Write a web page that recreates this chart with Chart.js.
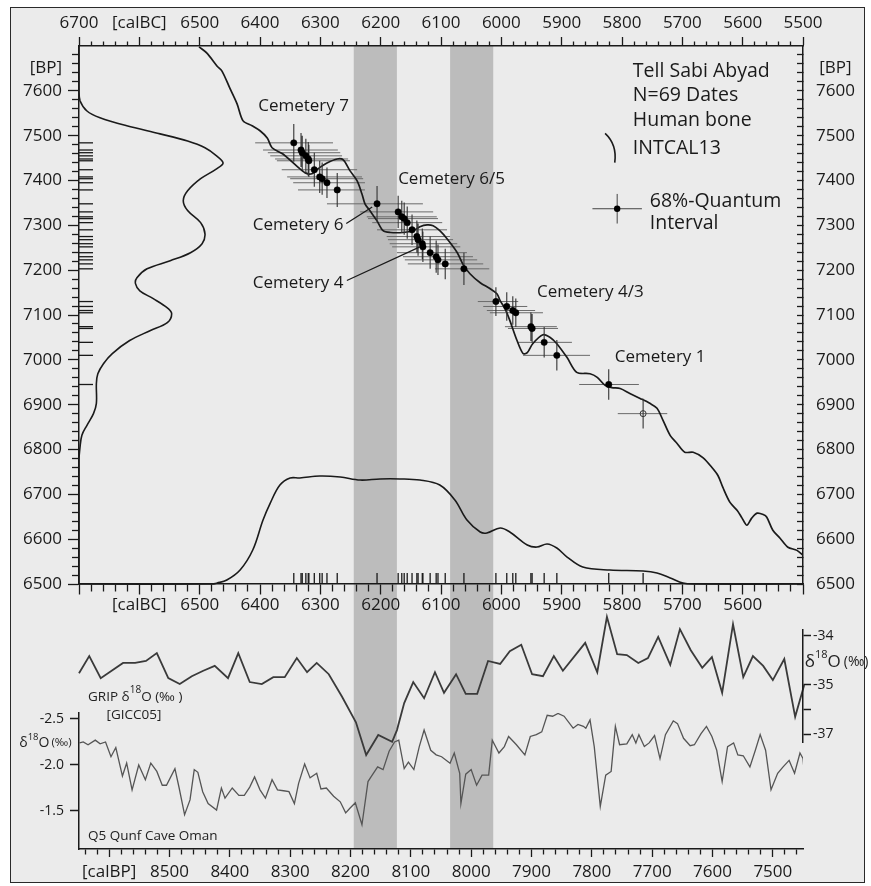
<!DOCTYPE html>
<html>
<head>
<meta charset="utf-8">
<script src="https://cdn.jsdelivr.net/npm/chart.js@4/dist/chart.umd.min.js"></script>
<style>
html,body{margin:0;padding:0;background:#ffffff;}
#wrap{position:relative;width:871px;height:886px;overflow:hidden;}
#frame{position:absolute;left:10px;top:7px;width:855px;height:876px;box-sizing:border-box;border:1.5px solid #2a2a2a;background:#ebebeb;}
#c{position:absolute;left:0;top:0;}
</style>
</head>
<body>
<div id="wrap"><div id="frame"></div><canvas id="c" width="871" height="886"></canvas></div>
<script>
// ---------------- DATA ----------------
// INTCAL13 calibration curve (cal BC -> 14C BP)
const intcalCalBC = [6501,6488,6471,6463,6450,6438,6428,6413,6400,6388,6380,6362,6339,6325,6314,6304,6289,6272,6262,6251,6239,6231,6226,6218,6206,6196,6184,6163,6146,6135,6123,6113,6102,6090,6073,6064,6052,6035,6019,6007,6002,5994,5986,5974,5964,5957,5948,5931,5919,5908,5891,5875,5853,5841,5828,5817,5803,5787,5770,5754,5742,5732,5720,5709,5696,5682,5666,5651,5641,5633,5621,5609,5601,5593,5585,5576,5566,5560,5550,5538,5525,5510,5500];
const intcalBP = [7698,7684,7655,7644,7606,7571,7533,7522,7511,7495,7473,7459,7432,7417,7415,7426,7439,7448,7446,7422,7399,7370,7348,7333,7310,7288,7284,7284,7288,7297,7301,7299,7288,7270,7239,7214,7192,7172,7159,7147,7132,7114,7088,7043,7014,7016,7036,7056,7050,7036,7005,6972,6969,6961,6943,6938,6936,6925,6914,6903,6892,6865,6831,6814,6794,6794,6782,6760,6742,6716,6682,6664,6647,6631,6647,6658,6655,6649,6620,6602,6582,6575,6564];

// summed 14C BP distribution (left curve), relative density
const sumBP = [7700,7600,7578,7555,7540,7522,7504,7488,7473,7455,7439,7426,7404,7377,7355,7333,7306,7281,7259,7239,7221,7203,7183,7170,7154,7137,7116,7103,7083,7065,7043,7014,6992,6969,6947,6903,6880,6854,6832,6805,6776,6500];
const sumBPDensity = [0,0,0.007,0.055,0.145,0.33,0.56,0.75,0.87,0.95,0.995,0.95,0.84,0.75,0.72,0.75,0.84,0.87,0.85,0.77,0.63,0.47,0.40,0.39,0.42,0.51,0.61,0.64,0.61,0.49,0.35,0.23,0.17,0.13,0.12,0.12,0.10,0.055,0.02,0.007,0,0];

// summed calibrated distribution (bottom curve), relative density
const sumCalBC = [6700,6480,6471,6455,6433,6412,6395,6383,6367,6350,6334,6301,6267,6234,6201,6168,6135,6102,6077,6057,6035,6024,6002,5986,5957,5941,5924,5908,5891,5865,5820,5765,5742,5720,5699,5682,5500];
const sumCalDensity = [0,0,0.009,0.036,0.127,0.309,0.582,0.736,0.9,0.964,0.964,0.982,0.973,0.945,0.955,0.955,0.945,0.9,0.764,0.582,0.473,0.464,0.509,0.473,0.355,0.336,0.364,0.327,0.245,0.155,0.127,0.118,0.1,0.055,0.009,0,0];

// human bone dates: calibrated median (cal BC), 14C age (BP), 68% range, BP error
const dateCalBC = [6344,6332,6330,6324,6320,6319,6310,6301,6297,6289,6272,6206,6171,6165,6161,6156,6148,6140,6138,6131,6130,6118,6108,6105,6093,6062,6009,5991,5981,5976,5951,5949,5929,5908,5822];
const dateBP    = [7484,7468,7462,7455,7448,7444,7424,7408,7404,7395,7379,7348,7330,7319,7315,7306,7290,7275,7268,7259,7252,7239,7230,7223,7214,7203,7130,7119,7110,7105,7074,7070,7039,7010,6945];
const dateCalOld = [6408,6395,6387,6383,6375,6372,6364,6355,6350,6345,6337,6289,6234,6223,6221,6214,6206,6190,6188,6185,6181,6173,6163,6160,6155,6110,6039,6030,6024,6019,5994,5989,5974,5964,5871];
const dateCalYoung = [6279,6271,6267,6264,6254,6251,6239,6231,6229,6226,6226,6130,6113,6107,6105,6098,6090,6085,6080,6073,6068,6057,6047,6040,6030,6020,5972,5957,5944,5931,5908,5906,5883,5853,5772];
const dateBPErr = [42,38,38,38,38,36,38,36,36,34,38,40,36,36,36,36,34,36,36,34,34,36,36,34,34,36,32,32,32,32,32,32,34,34,34];
// outlier date (open symbol)
const openCalBC = [5765], openBP = [6880], openCalOld = [5807], openCalYoung = [5725], openBPErr = [33];

// grey event bands (cal BC)
const bandStartBC = [6245, 6085];
const bandEndBC   = [6173, 6013];

// GRIP d18O (GICC05), cal BP
const gripCalBP = [8650,8633,8614,8577,8557,8539,8521,8502,8483,8463,8444,8425,8403,8386,8367,8347,8328,8309,8289,8272,8256,8236,8214,8191,8174,8154,8131,8123,8111,8096,8078,8060,8045,8025,8009,7990,7972,7952,7936,7917,7899,7881,7863,7848,7811,7791,7775,7758,7742,7723,7707,7690,7670,7654,7636,7617,7601,7584,7566,7549,7533,7516,7500,7481,7463,7448];
const gripD18O = [-34.76,-34.41,-34.86,-34.55,-34.55,-34.51,-34.35,-34.86,-34.98,-34.82,-34.71,-34.61,-34.86,-34.35,-34.94,-34.98,-34.84,-34.84,-34.45,-34.74,-34.55,-34.78,-35.24,-35.76,-36.43,-36.02,-36.16,-35.92,-35.37,-34.94,-35.27,-34.74,-35.16,-34.78,-35.18,-35.18,-34.51,-34.57,-34.31,-34.18,-34.78,-34.82,-34.41,-34.71,-34.14,-34.74,-33.61,-34.37,-34.39,-34.55,-34.45,-34.02,-34.59,-33.86,-34.29,-34.65,-34.43,-35.16,-33.76,-34.84,-34.41,-34.61,-34.90,-34.47,-35.65,-35.00];

// Q5 Qunf Cave (Oman) d18O, cal BP
const qunfCalBP = [8649,8643,8635,8623,8615,8606,8597,8589,8578,8571,8562,8551,8540,8531,8521,8512,8505,8491,8484,8475,8466,8459,8453,8445,8436,8422,8414,8408,8396,8385,8376,8367,8359,8350,8341,8330,8321,8311,8302,8293,8286,8276,8267,8256,8249,8240,8228,8217,8208,8201,8192,8181,8171,8166,8155,8146,8136,8127,8120,8111,8104,8095,8086,8078,8067,8058,8049,8035,8028,8019,8017,8009,8000,7991,7982,7971,7965,7954,7945,7938,7925,7911,7902,7892,7883,7874,7865,7856,7846,7831,7823,7814,7810,7803,7796,7786,7777,7768,7761,7754,7742,7733,7727,7722,7713,7705,7696,7687,7678,7665,7658,7648,7637,7630,7619,7610,7601,7593,7584,7575,7565,7558,7549,7538,7529,7521,7512,7503,7492,7483,7473,7464,7455,7450,7448];
const qunfD18O = [-2.24,-2.25,-2.22,-2.27,-2.23,-2.25,-2.09,-2.19,-1.88,-2.02,-1.73,-2.00,-1.84,-2.02,-1.93,-1.78,-1.78,-1.96,-1.75,-1.46,-1.62,-1.95,-1.92,-1.71,-1.58,-1.51,-1.75,-1.64,-1.75,-1.67,-1.67,-1.76,-1.87,-1.73,-1.64,-1.84,-1.73,-1.72,-1.71,-1.58,-1.80,-2.01,-1.86,-1.91,-1.74,-1.75,-1.66,-1.60,-1.48,-1.53,-1.59,-1.35,-1.82,-1.87,-1.98,-1.95,-2.15,-2.25,-2.27,-1.96,-2.03,-1.95,-2.20,-2.38,-2.16,-2.11,-2.09,-2.02,-2.13,-1.91,-1.58,-1.90,-1.95,-1.78,-1.89,-1.89,-2.27,-2.13,-2.20,-2.31,-2.22,-2.11,-2.31,-2.33,-2.36,-2.54,-2.53,-2.56,-2.53,-2.40,-2.44,-2.42,-2.40,-2.49,-2.20,-1.55,-1.89,-1.93,-2.42,-2.22,-2.23,-2.33,-2.24,-2.33,-2.20,-2.24,-2.32,-2.07,-2.33,-2.48,-2.45,-2.29,-2.21,-2.22,-2.34,-2.42,-2.31,-2.16,-1.82,-2.20,-2.24,-2.11,-2.10,-1.98,-2.16,-2.33,-2.16,-1.73,-1.91,-1.98,-2.05,-1.91,-2.13,-2.07,-1.93];

// tick labels
const calBCTickValues = [6700,6600,6500,6400,6300,6200,6100,6000,5900,5800,5700,5600,5500];
const calBCTopLabels  = ['6700','[calBC]','6500','6400','6300','6200','6100','6000','5900','5800','5700','5600','5500'];
const calBCMidLabels  = ['','[calBC]','6500','6400','6300','6200','6100','6000','5900','5800','5700','5600',''];
const bpTickValues = [7650,7600,7500,7400,7300,7200,7100,7000,6900,6800,6700,6600,6500];
const bpTickLabels = ['[BP]','7600','7500','7400','7300','7200','7100','7000','6900','6800','6700','6600','6500'];
const calBPTickValues = [8600,8500,8400,8300,8200,8100,8000,7900,7800,7700,7600,7500];
const calBPTickLabels = ['[calBP]','8500','8400','8300','8200','8100','8000','7900','7800','7700','7600','7500'];
const qunfTickValues = [-2.5,-2.0,-1.5];
const qunfTickLabels = ['-2.5','-2.0','-1.5'];
const gripTickValues = [-34,-35,-35.5,-36];
const gripTickLabels = ['-34','-35','','-37'];

// ---------------- HELPERS ----------------
const FONT = "'Open Sans','Noto Sans','DejaVu Sans',sans-serif";
const INK = '#1a1a1a';
function range(a, b, s) { const r = []; for (let v = a; v <= b + 1e-9; v += s) r.push(Math.round(v * 1000) / 1000); return r; }
function labelMap(vals, labs) { const m = new Map(); vals.forEach((v, i) => m.set(v, labs[i])); return m; }
function setTicks(values) { return s => { s.ticks = Array.from(new Set(values)).sort((a, b) => a - b).map(v => ({value: v})); }; }
function minorDash(majorSet, tl, m, outerFirst) {
  return {
    tickBorderDash: c => (c.tick && !majorSet.has(c.tick.value)) ? [m, 1000] : [],
    tickBorderDashOffset: c => (c.tick && !majorSet.has(c.tick.value) && outerFirst) ? -(tl - m) : 0
  };
}
const calBCMajor = new Set(calBCTickValues);
const bpMajor = new Set(bpTickValues.filter(v => v !== 7650));
const calBPMajor = new Set(range(7500, 8600, 100));
const topMap = labelMap(calBCTickValues, calBCTopLabels);
const midMap = labelMap(calBCTickValues, calBCMidLabels);
const bpMap = labelMap(bpTickValues, bpTickLabels);
const calBPMap = labelMap(calBPTickValues, calBPTickLabels);
const qunfMap = labelMap(qunfTickValues, qunfTickLabels);
const gripMap = labelMap(gripTickValues, gripTickLabels);
const hideBPLabelTick = c => (c.tick && c.tick.value === 7650) ? 'rgba(0,0,0,0)' : INK;

// datasets built from arrays
const xy = (xs, ys) => xs.map((x, i) => ({x, y: ys[i]}));
function hBars(cal, bp, old, young) { const d = []; cal.forEach((c, i) => { d.push({x: old[i], y: bp[i]}, {x: young[i], y: bp[i]}, {x: young[i], y: null}); }); return d; }
function vBars(cal, bp, err) { const d = []; cal.forEach((c, i) => { d.push({x: c, y: bp[i] - err[i]}, {x: c, y: bp[i] + err[i]}, {x: c, y: null}); }); return d; }

const lineDefaults = {type: 'line', pointRadius: 0, borderWidth: 1.6, borderColor: INK, fill: false, tension: 0};

const datasets = [];
bandStartBC.forEach((s, i) => datasets.push({...lineDefaults, label: 'band' + i, data: [{x: s, y: 1}, {x: bandEndBC[i], y: 1}], xAxisID: 'x', yAxisID: 'yBand', borderWidth: 0, fill: 'origin', backgroundColor: '#bcbcbc', order: 20}));
datasets.push({...lineDefaults, label: 'sumBP', data: xy(sumBPDensity, sumBP), xAxisID: 'xD', yAxisID: 'yBP', tension: 0.35, order: 9});
datasets.push({...lineDefaults, label: 'sumCal', data: xy(sumCalBC, sumCalDensity), xAxisID: 'x', yAxisID: 'yD', tension: 0.35, order: 9});
datasets.push({...lineDefaults, label: 'hbars', data: hBars(dateCalBC.concat(openCalBC), dateBP.concat(openBP), dateCalOld.concat(openCalOld), dateCalYoung.concat(openCalYoung)), xAxisID: 'x', yAxisID: 'yBP', borderWidth: 1, borderColor: '#6a6a6a', order: 8});
datasets.push({...lineDefaults, label: 'intcal', data: xy(intcalCalBC, intcalBP), xAxisID: 'x', yAxisID: 'yBP', tension: 0.3, borderWidth: 1.7, order: 7});
datasets.push({...lineDefaults, label: 'vbars', data: vBars(dateCalBC.concat(openCalBC), dateBP.concat(openBP), dateBPErr.concat(openBPErr)), xAxisID: 'x', yAxisID: 'yBP', borderWidth: 1.1, borderColor: '#333333', order: 6});
datasets.push({type: 'line', label: 'rugBP', data: dateBP.map(v => ({x: 6700, y: v})), xAxisID: 'x', yAxisID: 'yBP', showLine: false, pointStyle: 'dash', pointRadius: 14, pointBorderWidth: 1.3, pointBorderColor: INK, order: 5});
datasets.push({type: 'line', label: 'rugCal', data: dateCalBC.concat(openCalBC).map(v => ({x: v, y: 6500})), xAxisID: 'x', yAxisID: 'yBP', showLine: false, pointStyle: 'dash', pointRotation: -90, pointRadius: 11, pointBorderWidth: 1.3, pointBorderColor: INK, order: 5});
datasets.push({type: 'line', label: 'dates', data: xy(dateCalBC, dateBP), xAxisID: 'x', yAxisID: 'yBP', showLine: false, pointRadius: 3.2, pointBackgroundColor: '#000', pointBorderColor: '#000', pointBorderWidth: 0.5, order: 4});
datasets.push({type: 'line', label: 'open', data: xy(openCalBC, openBP), xAxisID: 'x', yAxisID: 'yBP', showLine: false, pointRadius: 3, pointBackgroundColor: 'rgba(0,0,0,0)', pointBorderColor: '#333', pointBorderWidth: 1, order: 4});
datasets.push({...lineDefaults, label: 'GRIP', data: xy(gripCalBP, gripD18O), xAxisID: 'xBP', yAxisID: 'yGRIP', borderWidth: 1.8, borderColor: '#3a3a3a', clip: false, order: 3});
datasets.push({...lineDefaults, label: 'Qunf', data: xy(qunfCalBP, qunfD18O), xAxisID: 'xBP', yAxisID: 'yQunf', borderWidth: 1.3, borderColor: '#555555', order: 3});

// ---------------- ANNOTATION PLUGIN ----------------
function rich(ctx, x, y, parts) {
  let cx = x;
  parts.forEach(p => {
    ctx.font = (p.size) + 'px ' + FONT;
    ctx.fillText(p.t, cx, y + (p.dy || 0));
    cx += ctx.measureText(p.t).width + (p.gap || 0);
  });
}
const annotations = {
  id: 'annotations',
  afterDraw(chart) {
    const ctx = chart.ctx, S = chart.scales;
    const px = v => S.x.getPixelForValue(v), py = v => S.yBP.getPixelForValue(v);
    const bx = v => S.xBP.getPixelForValue(v), gy = v => S.yGRIP.getPixelForValue(v), qy = v => S.yQunf.getPixelForValue(v);
    ctx.save();
    ctx.fillStyle = INK; ctx.strokeStyle = INK; ctx.textBaseline = 'middle'; ctx.textAlign = 'left';
    // site text
    ctx.font = '19.5px ' + FONT;
    [['Tell Sabi Abyad', 7644], ['N=69 Dates', 7589], ['Human bone', 7533], ['INTCAL13', 7471]].forEach(t => ctx.fillText(t[0], px(5782), py(t[1])));
    ctx.fillText('68%-Quantum', px(5754), py(7353));
    ctx.fillText('Interval', px(5754), py(7304));
    // legend: curve sample
    ctx.lineWidth = 1.6;
    ctx.beginPath();
    ctx.moveTo(px(5828), py(7505));
    ctx.quadraticCurveTo(px(5808), py(7480), px(5812), py(7440));
    ctx.stroke();
    // legend: quantum interval cross
    ctx.lineWidth = 1; ctx.strokeStyle = '#444';
    ctx.beginPath();
    ctx.moveTo(px(5849), py(7337)); ctx.lineTo(px(5767), py(7337));
    ctx.moveTo(px(5808), py(7370)); ctx.lineTo(px(5808), py(7304));
    ctx.stroke();
    ctx.beginPath(); ctx.arc(px(5808), py(7337), 3.2, 0, Math.PI * 2); ctx.fillStyle = '#000'; ctx.fill();
    ctx.fillStyle = INK; ctx.strokeStyle = INK;
    // cemetery labels
    ctx.font = '17px ' + FONT;
    [['Cemetery 7', 6403, 7566], ['Cemetery 6/5', 6171, 7404], ['Cemetery 6', 6412, 7301], ['Cemetery 4', 6412, 7172], ['Cemetery 4/3', 5941, 7152], ['Cemetery 1', 5812, 7007]].forEach(t => ctx.fillText(t[0], px(t[1]), py(t[2])));
    ctx.lineWidth = 1.3;
    ctx.beginPath();
    ctx.moveTo(px(6257), py(7304)); ctx.lineTo(px(6214), py(7341));
    ctx.moveTo(px(6256), py(7177)); ctx.lineTo(px(6135), py(7252));
    ctx.stroke();
    // lower panel texts
    ctx.fillStyle = '#222';
    rich(ctx, bx(8635), gy(-35.245), [{t: 'GRIP ', size: 13.5}, {t: 'δ', size: 13.5}, {t: '18', size: 10, dy: -7}, {t: 'O (‰ )', size: 13.5}]);
    ctx.font = '13.5px ' + FONT; ctx.textAlign = 'center';
    ctx.fillText('[GICC05]', bx(8559), gy(-35.61));
    ctx.textAlign = 'left';
    ctx.fillText('Q5 Qunf Cave Oman', bx(8635), qy(-1.228));
    rich(ctx, bx(8749), qy(-2.239), [{t: 'δ', size: 14}, {t: '18', size: 9.5, dy: -6}, {t: 'O', size: 14, gap: 2}, {t: '(‰)', size: 11.5}]);
    rich(ctx, bx(7447), gy(-34.53), [{t: 'δ', size: 17}, {t: '18', size: 11, dy: -7}, {t: 'O', size: 17, gap: 3}, {t: '(‰)', size: 14}]);
    ctx.restore();
  }
};

// ---------------- CHART ----------------
Chart.defaults.font.family = FONT;
Chart.defaults.color = INK;
const tickFont = {size: 17, family: FONT};
const axisBorder = {display: true, color: INK, width: 1.5};
const axisBorderTop = {display: true, color: INK, width: 1.5, z: 2};

new Chart(document.getElementById('c'), {
  data: {datasets},
  plugins: [annotations],
  options: {
    responsive: false, animation: false, devicePixelRatio: 1, events: [],
    layout: {padding: 0},
    plugins: {legend: {display: false}, tooltip: {enabled: false}},
    scales: {
      x: {
        axis: 'x', type: 'linear', position: 'top', min: 5500, max: 6700, reverse: true,
        afterBuildTicks: setTicks(range(5500, 6700, 20)),
        afterFit: s => { s.height = 46; },
        ticks: {autoSkip: false, maxRotation: 0, padding: 4, font: tickFont, color: INK, callback: v => topMap.get(v) || ''},
        grid: {drawOnChartArea: false, tickLength: 9, tickWidth: 1.3, tickColor: INK, ...minorDash(calBCMajor, 9, 4.5, true)},
        border: axisBorderTop
      },
      xMid: {
        axis: 'x', type: 'linear', position: {yBP: 6500}, min: 5500, max: 6700, reverse: true,
        afterBuildTicks: setTicks(range(5500, 6700, 20)),
        ticks: {z: 2, autoSkip: false, maxRotation: 0, padding: 1, font: tickFont, color: INK, callback: v => midMap.get(v) || ''},
        grid: {z: 2, drawOnChartArea: false, tickLength: 10, tickWidth: 1.3, tickColor: INK, ...minorDash(calBCMajor, 10, 7, false)},
        border: axisBorderTop
      },
      xBP: {
        axis: 'x', type: 'linear', position: 'bottom', min: 7450, max: 8650, reverse: true,
        afterBuildTicks: setTicks(range(7460, 8640, 20)),
        afterFit: s => { s.height = 37; },
        ticks: {z: 2, autoSkip: false, maxRotation: 0, padding: 5, font: tickFont, color: INK, callback: v => calBPMap.get(v) || ''},
        grid: {z: 2, drawOnChartArea: false, tickLength: 8, tickWidth: 1.3, tickColor: INK, ...minorDash(calBPMajor, 8, 5, false)},
        border: axisBorderTop
      },
      xD: {axis: 'x', type: 'linear', position: 'top', display: false, min: 0, max: 5},
      yBP: {
        axis: 'y', type: 'linear', position: 'left', stack: 'L', stackWeight: 538, weight: 3, min: 6500, max: 7700,
        afterBuildTicks: setTicks(range(6500, 7680, 20).concat([7650])),
        afterFit: s => { s.width = 79; },
        ticks: {autoSkip: false, padding: 6, font: tickFont, color: INK, callback: v => bpMap.get(v) || ''},
        grid: {drawOnChartArea: false, tickLength: 11, tickWidth: 1.3, tickColor: hideBPLabelTick, ...minorDash(bpMajor, 11, 7, true)},
        border: axisBorderTop
      },
      yGapL: {axis: 'y', type: 'linear', position: 'left', stack: 'L', stackWeight: 129, weight: 2, display: false},
      yQunf: {
        axis: 'y', type: 'linear', position: 'left', stack: 'L', stackWeight: 136, weight: 1, reverse: true, min: -2.565, max: -1.087,
        afterBuildTicks: setTicks(qunfTickValues),
        afterFit: s => { s.width = 79; },
        ticks: {autoSkip: false, padding: 6, font: {size: 14, family: FONT}, color: INK, callback: v => qunfMap.get(v) || ''},
        grid: {drawOnChartArea: false, tickLength: 9, tickWidth: 1.5, tickColor: INK},
        border: axisBorderTop
      },
      yD: {axis: 'y', type: 'linear', position: 'left', display: false, weight: 0, min: -2.409, max: 4.891},
      yBand: {axis: 'y', type: 'linear', position: 'left', display: false, weight: -1, min: 0, max: 1},
      yBPR: {
        axis: 'y', type: 'linear', position: 'right', stack: 'R', stackWeight: 538, weight: 1, min: 6500, max: 7700,
        afterBuildTicks: setTicks(range(6500, 7680, 20).concat([7650])),
        afterFit: s => { s.width = 68; },
        ticks: {autoSkip: false, padding: 19, crossAlign: 'center', font: tickFont, color: INK, callback: v => bpMap.get(v) || ''},
        grid: {drawOnChartArea: false, tickLength: -6, tickWidth: 1.3, tickColor: hideBPLabelTick},
        border: axisBorderTop
      },
      yGapR1: {axis: 'y', type: 'linear', position: 'right', stack: 'R', stackWeight: 46, weight: 2, display: false},
      yGRIP: {
        axis: 'y', type: 'linear', position: 'right', stack: 'R', stackWeight: 112, weight: 3, min: -36.163, max: -33.878,
        afterBuildTicks: setTicks(gripTickValues),
        afterFit: s => { s.width = 68; },
        ticks: {autoSkip: false, padding: 2, font: {size: 14, family: FONT}, color: INK, callback: v => gripMap.get(v) || ''},
        grid: {drawOnChartArea: false, tickLength: 8, tickWidth: 1.5, tickColor: INK},
        border: axisBorderTop
      },
      yGapR2: {axis: 'y', type: 'linear', position: 'right', stack: 'R', stackWeight: 107, weight: 4, display: false}
    }
  }
});
</script>
</body>
</html>
